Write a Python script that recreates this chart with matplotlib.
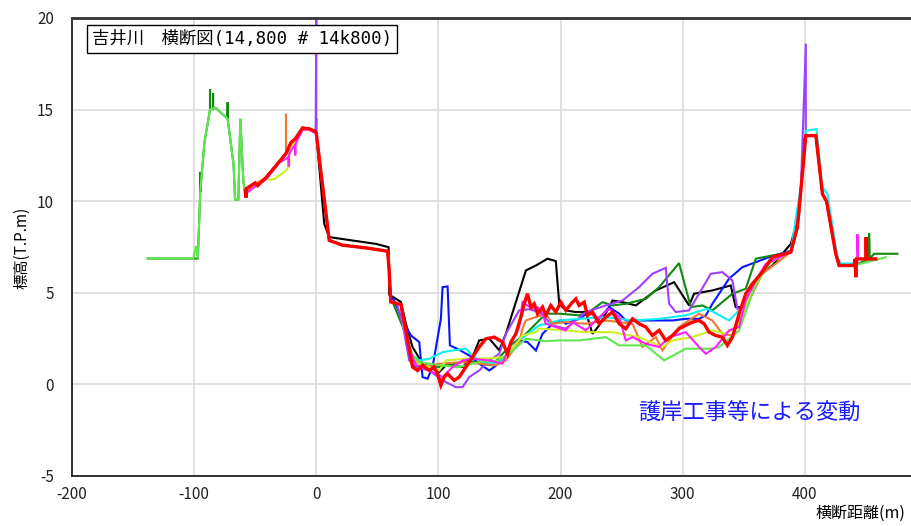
import matplotlib
matplotlib.use("Agg")
import matplotlib.pyplot as plt
from matplotlib import font_manager

plt.rcParams['font.family'] = ['Noto Sans CJK JP', 'DejaVu Sans']
plt.rcParams['axes.unicode_minus'] = False

# Shared ground profile pieces (distance m, elevation T.P.m)
FLOOD_X = [-138, -100.7, -100, -98.5, -97, -95, -91.6, -87, -82.6, -72.6, -67.7, -66.5, -63.8, -62.2, -59.7, -58]
FLOOD_Y = [6.87, 6.87, 7.1, 7.55, 6.87, 10.5, 13.2, 15.0, 15.1, 14.5, 12.0, 10.1, 10.1, 14.5, 11.1, 10.2]

DKGREEN_FLOOD_X = [-138, -100.7, -97, -95, -95, -95, -91.6, -87, -87, -87, -84.5, -84.5, -84.5, -82.6, -72.6, -72.6, -72.6, -67.7, -66.5, -63.8, -62.2, -59.7, -58]
DKGREEN_FLOOD_Y = [6.87, 6.87, 6.87, 10.5, 11.6, 10.5, 13.2, 15.0, 16.1, 15.0, 15.05, 15.9, 15.05, 15.1, 14.5, 15.4, 14.5, 12.0, 10.1, 10.1, 14.5, 11.1, 10.2]

TOP_X = [-58, -57.5, -57, -50, -48, -41, -24.8, -20.7, -17.2, -11.2, -5.7, -0.5]
TOP_Y = [10.6, 10.2, 10.7, 11.0, 10.85, 11.3, 12.6, 13.2, 13.4, 14.0, 13.95, 13.8]

ORANGE_TOP_X = [-58, -50, -41, -24.8, -24.8, -24.8, -20.7, -17.2, -11.2, -5.7, -0.5]
ORANGE_TOP_Y = [10.5, 10.95, 11.3, 12.6, 14.77, 12.6, 13.2, 13.4, 14.0, 13.95, 13.8]

YELLOW_TOP_X = [-38.5, -34.4, -24.8, -22, -22, -17.2, -11.2, -5.7, -0.5]
YELLOW_TOP_Y = [11.17, 11.2, 11.67, 11.95, 12.9, 13.3, 14.0, 13.95, 13.8]

MAGENTA_TOP_X = [-58, -50, -41, -30.3, -22.6, -22.6, -22.6, -20.7, -17.2, -17.2, -17.2, -11.2, -5.7, -0.5]
MAGENTA_TOP_Y = [10.4, 10.8, 11.2, 12.1, 12.4, 11.9, 12.5, 12.77, 13.1, 12.5, 13.1, 13.9, 13.9, 13.7]

STEP_X = [0, 10.6, 21.5, 40.7, 58.4, 59.7, 61]
STEP_Y = [13.7, 7.86, 7.6, 7.45, 7.27, 6.2, 4.5]

BLACK_STEP_X = [0, 6.5, 10.6, 48.8, 59.2, 59.7, 69.3, 73.4]
BLACK_STEP_Y = [13.7, 8.77, 8.04, 7.67, 7.49, 4.9, 4.5, 3.3]

RIGHT_X = [393.9, 396.7, 400.8, 409, 414.4, 417.7, 425.3, 428, 440.3]
RIGHT_Y = [8.58, 10.58, 13.58, 13.58, 10.4, 10.0, 7.13, 6.49, 6.49]

CYAN_RIGHT_X = [396.7, 400.8, 409.5, 414.4, 418.5, 426, 428, 440]
CYAN_RIGHT_Y = [10.8, 13.85, 13.94, 10.76, 10.4, 7.2, 6.6, 6.6]

BLACK_RIGHT_X = [395.3, 399.4, 400.8, 409, 414.4, 417.7, 425.3, 429.4, 440.3]
BLACK_RIGHT_Y = [9.3, 13.4, 13.58, 13.58, 10.4, 10.0, 7.13, 6.49, 6.49]

# Channel sections for each survey
BLACK_X = [78.8, 87, 95.2, 100.7, 106.1, 119.8, 127.9, 133.4, 141.6, 149.8, 155.2, 171.6, 179.8, 189.3, 196.1, 198.9, 204.3, 212.5, 220.7, 226.1, 231.6, 239.8, 242.5, 250.7, 261.6, 278, 293, 305.2, 309.3, 324.3, 339.3, 343.4, 348.9, 354.3, 362.5, 373.5, 388.5]
BLACK_Y = [2.04, 1.13, 0.86, 0.68, 1.04, 0.95, 1.5, 2.4, 2.5, 1.86, 2.76, 6.22, 6.49, 6.86, 6.73, 4.4, 4.04, 3.95, 3.95, 2.76, 3.22, 4.22, 4.58, 4.49, 4.31, 5.13, 5.58, 4.31, 4.95, 5.13, 5.4, 4.22, 4.22, 4.58, 5.9, 6.5, 7.67]

BLUE_X = [62.5, 70.6, 77.5, 84.3, 87, 91.1, 95.2, 102, 103.4, 107.5, 109.4, 117, 125.2, 133.4, 141.6, 145.7, 155.2, 166.1, 172.9, 179.8, 185.2, 193.4, 200.2, 204.3, 215.2, 223.4, 231.6, 239.8, 248, 253.4, 269.8, 291.6, 302.5, 313.4, 318.9, 324.3, 337.9, 348.9, 359.8, 370.7, 388.5]
BLUE_Y = [4.76, 3.49, 2.67, 2.31, 0.4, 0.31, 0.95, 3.58, 5.31, 5.35, 2.13, 1.89, 1.58, 1.13, 0.76, 0.95, 1.49, 2.4, 2.31, 1.85, 2.76, 3.3, 3.5, 3.31, 3.58, 3.95, 3.58, 4.22, 3.86, 3.49, 3.49, 3.49, 3.58, 3.58, 3.77, 4.4, 5.77, 6.4, 6.67, 6.95, 7.3]

DKGREEN_X = [62.5, 72, 78.8, 87, 100.7, 114.3, 125.2, 133.4, 144.3, 152.5, 160.7, 171.6, 187.9, 198.9, 215.2, 223.4, 234.3, 242.5, 253.4, 269.8, 280.7, 297, 306.6, 316.1, 324.3, 340.7, 351.6, 359.8, 373.4, 388.5]
DKGREEN_Y = [4.49, 2.95, 1.31, 1.04, 0.95, 1.13, 1.31, 1.13, 1.04, 1.67, 2.22, 2.76, 3.86, 3.86, 3.77, 3.95, 4.49, 4.31, 4.4, 4.67, 5.31, 6.62, 4.22, 4.31, 4.04, 4.95, 5.22, 6.86, 7.04, 7.22]

PURPLE_X = [66, 70.6, 76.1, 81.6, 92.5, 103.4, 114.3, 119.8, 125.2, 133.4, 141.6, 149.8, 155.2, 166.1, 174.3, 182.5, 193.4, 204.3, 220.7, 237, 250.7, 264.3, 275.2, 286.1, 288.9, 294.3, 305.2, 313.4, 323, 332.5, 340.7, 344.8, 351.6, 359.8, 372, 388.5]
PURPLE_Y = [4.4, 3.31, 1.31, 0.95, 0.76, 0.22, -0.15, -0.15, 0.4, 0.76, 1.31, 1.67, 2.76, 4.04, 4.1, 3.95, 3.22, 3.04, 3.95, 4.31, 4.58, 5.31, 6.04, 6.36, 4.4, 3.95, 4.04, 4.95, 6.04, 6.13, 5.67, 4.13, 4.22, 5.67, 6.77, 7.22]

CYAN_X = [69.3, 72, 78.8, 84.3, 92.5, 103.4, 111.6, 122.5, 127.9, 136.1, 149.8, 155.2, 166.1, 182.5, 198.9, 215.2, 237, 258.9, 280.7, 302.5, 320.2, 338, 351.6, 370.7, 388.5]
CYAN_Y = [4.36, 2.95, 1.6, 1.31, 1.4, 1.76, 1.85, 1.95, 1.58, 1.22, 1.13, 1.49, 2.4, 3.22, 3.49, 3.58, 3.67, 3.49, 3.58, 3.77, 4.13, 3.49, 4.4, 6.77, 7.3]

ORANGE_X = [69.3, 72, 78.8, 87, 100.7, 119.8, 133.4, 147, 155.2, 166.1, 168.8, 171.6, 187.9, 193.4, 204.3, 220.7, 237, 258.9, 267, 278, 283.4, 297, 313.4, 324.3, 332.5, 340.7, 351.6, 365.2, 388.5]
ORANGE_Y = [4.36, 2.95, 1.4, 0.95, 1.13, 1.22, 1.13, 1.04, 1.31, 2.31, 3.04, 3.49, 3.86, 3.31, 3.4, 3.31, 3.49, 3.31, 2.04, 2.58, 1.86, 3.13, 3.86, 3.49, 2.76, 2.67, 4.22, 6.04, 7.22]

YELLOW_X = [69.3, 72, 78.8, 84.3, 100.7, 106.1, 122.5, 133.4, 155.2, 168.8, 179.8, 182.5, 204.3, 220.7, 242.5, 264.3, 283.4, 291.6, 308, 324.3, 335.2, 346.2, 357, 370, 388.5]
YELLOW_Y = [4.36, 2.95, 1.6, 1.13, 0.76, 1.31, 1.4, 1.4, 1.49, 2.67, 2.85, 3.04, 2.95, 2.85, 2.85, 2.58, 2.04, 2.4, 2.58, 2.95, 2.76, 3.31, 5.13, 6.6, 7.22]

LTGREEN_X = [69.3, 72, 78.8, 84.3, 100.7, 117, 133.4, 149.8, 160.7, 171.6, 187.9, 198.9, 215.2, 237, 248, 269.8, 284.8, 302.5, 324.3, 329.8, 346.2, 359.8, 372, 388.5]
LTGREEN_Y = [4.36, 2.95, 1.6, 1.22, 1.04, 0.95, 1.22, 1.31, 1.85, 2.49, 2.36, 2.4, 2.4, 2.58, 2.13, 2.13, 1.31, 1.95, 1.95, 2.04, 2.95, 5.49, 6.7, 7.22]

MAGENTA_X = [69.3, 72, 78.8, 81.6, 92.5, 103.4, 111.6, 119.8, 127.9, 141.6, 152.5, 157.9, 166.1, 168.8, 177, 181.1, 185.2, 187.9, 196.1, 204.3, 209.8, 220.7, 231.6, 239.8, 248, 253.4, 258.9, 269.8, 280.7, 288.9, 302.5, 313.4, 318.9, 327, 338, 346.2, 351.6, 359.8, 368, 388.5]
MAGENTA_Y = [4.36, 2.95, 1.5, 1.04, 0.76, 0.4, 0.95, 1.31, 1.4, 1.31, 1.13, 2.04, 3.13, 4.49, 4.13, 4.22, 3.86, 3.31, 3.13, 2.95, 3.4, 2.95, 3.67, 4.13, 3.67, 2.4, 2.58, 2.22, 2.04, 2.58, 2.85, 2.04, 1.67, 2.04, 2.95, 3.13, 4.58, 5.67, 6.58, 7.22]

RED_X = [69.3, 73.4, 78.8, 82.9, 87, 92.5, 96.5, 99.3, 102, 104.7, 107.5, 112.9, 117, 122.5, 127.9, 133.4, 138.8, 145.7, 152.5, 156.6, 159.3, 163.4, 167.5, 170.2, 172.9, 175.7, 178.4, 181.1, 185.2, 187.9, 192, 196.1, 200.2, 204.3, 209.8, 212.5, 215.2, 219.3, 222, 226.1, 231.6, 237, 242.5, 248, 253.4, 258.9, 264.3, 269.8, 275.2, 280.7, 286.1, 291.6, 297, 302.5, 307.9, 313.4, 317.5, 321.6, 327, 332.5, 336.6, 340.7, 346.2, 351.6, 357, 365.2, 373.4, 388.5]
RED_Y = [4.36, 2.95, 0.95, 0.76, 1.04, 0.76, 0.95, 0.58, -0.05, 0.4, 0.58, 0.22, 0.4, 0.95, 1.49, 2.04, 2.49, 2.58, 2.31, 1.67, 2.31, 2.76, 3.67, 4.4, 4.95, 4.22, 4.4, 3.86, 4.22, 3.77, 4.31, 3.95, 4.49, 4.04, 4.49, 4.67, 4.31, 4.49, 3.77, 3.95, 3.31, 3.67, 3.95, 3.31, 3.04, 3.58, 3.31, 3.13, 2.67, 2.95, 2.4, 2.67, 3.04, 3.22, 3.4, 3.49, 3.31, 2.85, 2.67, 2.58, 2.13, 2.58, 3.86, 4.95, 5.49, 6.13, 6.95, 7.22]

# Ends beyond the right levee
RED_END_X = [441.1, 441.7, 442.3, 449.9, 450.2, 450.6, 458]
RED_END_Y = [6.85, 5.85, 6.85, 6.85, 8.04, 6.85, 6.85]
MAGENTA_END_X = [443, 443, 443.5, 446]
MAGENTA_END_Y = [6.6, 8.2, 6.85, 6.85]
DKGREEN_END_X = [452.6, 452.6, 453, 456.7, 475.8]
DKGREEN_END_Y = [6.85, 8.25, 6.85, 7.13, 7.13]
LTGREEN_END_X = [466.2]
LTGREEN_END_Y = [6.94]

# Spikes at the levee crowns
PURPLE_SPIKE_X = [0, 0]
PURPLE_SPIKE_Y = [20.5, 13.7]
PURPLE_SPIKE2_X = [400.8, 400.8]
PURPLE_SPIKE2_Y = [18.6, 13.58]
DKGREEN_SPIKE_X = [0, 0]
DKGREEN_SPIKE_Y = [14.5, 13.7]

series = [
    ('black', 1.5, TOP_X + BLACK_STEP_X + BLACK_X + BLACK_RIGHT_X, TOP_Y + BLACK_STEP_Y + BLACK_Y + BLACK_RIGHT_Y),
    ('#0a14ff', 1.5, TOP_X + STEP_X + BLUE_X + RIGHT_X, TOP_Y + STEP_Y + BLUE_Y + RIGHT_Y),
    ('#118811', 1.5, DKGREEN_FLOOD_X + TOP_X + DKGREEN_SPIKE_X + STEP_X + DKGREEN_X + RIGHT_X + DKGREEN_END_X,
     DKGREEN_FLOOD_Y + TOP_Y + DKGREEN_SPIKE_Y + STEP_Y + DKGREEN_Y + RIGHT_Y + DKGREEN_END_Y),
    ('#a040ff', 1.5, TOP_X + PURPLE_SPIKE_X + STEP_X + PURPLE_X + RIGHT_X[:2] + PURPLE_SPIKE2_X + RIGHT_X[3:],
     TOP_Y + PURPLE_SPIKE_Y + STEP_Y + PURPLE_Y + RIGHT_Y[:2] + PURPLE_SPIKE2_Y + RIGHT_Y[3:]),
    ('#10f0f0', 1.5, TOP_X + STEP_X + CYAN_X + CYAN_RIGHT_X, TOP_Y + STEP_Y + CYAN_Y + CYAN_RIGHT_Y),
    ('#f07830', 1.5, ORANGE_TOP_X + STEP_X + ORANGE_X + RIGHT_X, ORANGE_TOP_Y + STEP_Y + ORANGE_Y + RIGHT_Y),
    ('#ccf020', 1.5, YELLOW_TOP_X + STEP_X + YELLOW_X + RIGHT_X, YELLOW_TOP_Y + STEP_Y + YELLOW_Y + RIGHT_Y),
    ('#5ee84e', 1.5, FLOOD_X + TOP_X + STEP_X + LTGREEN_X + RIGHT_X + LTGREEN_END_X,
     FLOOD_Y + TOP_Y + STEP_Y + LTGREEN_Y + RIGHT_Y + LTGREEN_END_Y),
    ('#ff20ff', 1.5, MAGENTA_TOP_X + STEP_X + MAGENTA_X + RIGHT_X + MAGENTA_END_X,
     MAGENTA_TOP_Y + STEP_Y + MAGENTA_Y + RIGHT_Y + MAGENTA_END_Y),
    ('#ff0000', 2.4, TOP_X + STEP_X + RED_X + RIGHT_X + RED_END_X, TOP_Y + STEP_Y + RED_Y + RIGHT_Y + RED_END_Y),
]

XTICKS = [-200, -100, 0, 100, 200, 300, 400]
YTICKS = [-5, 0, 5, 10, 15, 20]

names = {f.name for f in font_manager.fontManager.ttflist}
tick_family = 'Liberation Sans Narrow' if 'Liberation Sans Narrow' in names else 'Noto Sans CJK JP'

fig = plt.figure(figsize=(9.11, 5.26), dpi=100)
ax = fig.add_axes([72 / 911, 50 / 526, 855 / 911, 458 / 526])

for color, lw, xs, ys in series:
    ax.plot(xs, ys, color=color, lw=lw, solid_joinstyle='miter')

ax.set_xlim(-200, 500)
ax.set_ylim(-5, 20)
ax.set_xticks(XTICKS)
ax.set_yticks(YTICKS)
ax.grid(True, color='#dcdcdc', lw=1.2)
ax.set_axisbelow(True)
ax.tick_params(length=0, labelsize=11, colors='#222222')
ax.tick_params(axis='x', pad=7)
ax.tick_params(axis='y', pad=13)
for lab in ax.get_xticklabels() + ax.get_yticklabels():
    lab.set_family(tick_family)

for side in ['left', 'bottom']:
    ax.spines[side].set_color('#111111')
    ax.spines[side].set_linewidth(1.2)
ax.spines['top'].set_color('#333333')
ax.spines['top'].set_linewidth(2)
ax.spines['right'].set_visible(False)

fig.text(92 / 911, 1 - 39 / 526, '吉井川\u3000横断図(14,800 # 14k800)', fontsize=12.5,
         family=['DejaVu Sans Mono', 'Noto Sans CJK JP'], ha='left', va='center',
         bbox=dict(boxstyle='square,pad=0.3', fc='white', ec='black', lw=1))

fig.text(638 / 911, 1 - 413 / 526, '護岸工事等による変動', fontsize=16,
         color='#1a1aff', ha='left', va='center')

fig.text(22 / 911, 1 - 248 / 526, '標高(T.P.m)', fontsize=11, rotation=90,
         ha='center', va='center')
fig.text(905 / 911, 1 - 513 / 526, '横断距離(m)', fontsize=11.5, ha='right', va='center')

fig.savefig('out.png', dpi=100)
